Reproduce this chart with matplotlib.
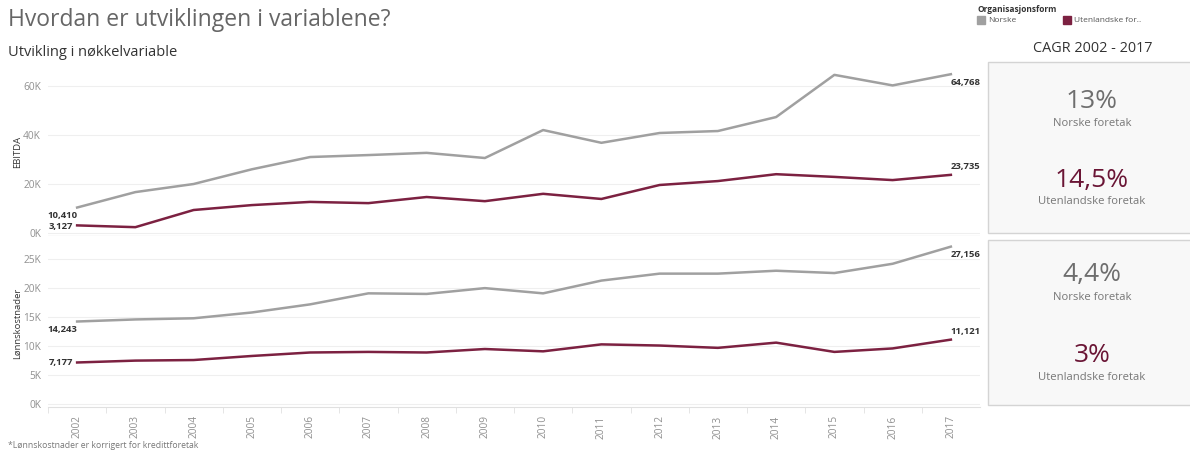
import matplotlib
matplotlib.use("Agg")
import matplotlib.pyplot as plt
from matplotlib.patches import Rectangle
from matplotlib.ticker import FuncFormatter, MultipleLocator

plt.rcParams["font.family"] = ["Open Sans", "DejaVu Sans"]

# ---------------------------------------------------------------------------
# Data (thousand NOK)
# ---------------------------------------------------------------------------
years = list(range(2002, 2018))

ebitda_norske = [10.410, 16.7, 20.0, 26.0, 31.0, 31.8, 32.7, 30.6, 42.0, 36.8,
                 40.8, 41.6, 47.3, 64.5, 60.2, 64.768]
ebitda_utl = [3.127, 2.4, 9.4, 11.4, 12.7, 12.2, 14.7, 13.0, 16.0, 13.9,
              19.6, 21.2, 24.0, 22.9, 21.6, 23.735]

lonn_norske = [14.243, 14.6, 14.8, 15.8, 17.2, 19.1, 19.0, 20.0, 19.1, 21.3,
               22.5, 22.5, 23.0, 22.6, 24.2, 27.156]
lonn_utl = [7.177, 7.5, 7.6, 8.3, 8.9, 9.0, 8.9, 9.5, 9.1, 10.3,
            10.1, 9.7, 10.6, 9.0, 9.6, 11.121]

cagr_ebitda = ["13%", "14,5%"]
cagr_lonn = ["4,4%", "3%"]
groups = ["Norske", "Utenlandske for.."]
group_labels = ["Norske foretak", "Utenlandske foretak"]

GREY = "#a0a0a0"
MAROON = "#7c2141"
CAGR_GREY = "#6e6e6e"
CAGR_MAROON = "#6a1535"
TICK = "#909090"

W, H = 1190, 450
fig = plt.figure(figsize=(W / 100, H / 100), dpi=100)


def px_axes(left, top, right, bottom):
    return fig.add_axes([left / W, 1 - bottom / H, (right - left) / W, (bottom - top) / H])


def fmt_k(v, _pos):
    return f"{int(round(v))}K"


def style(ax, ylim, step, ylabel):
    ax.set_xlim(2001.5, 2017.5)
    ax.set_ylim(*ylim)
    ax.yaxis.set_major_locator(MultipleLocator(step))
    ax.yaxis.set_major_formatter(FuncFormatter(fmt_k))
    ax.grid(axis="y", color="#efefef", lw=0.8)
    ax.set_axisbelow(True)
    for s in ax.spines.values():
        s.set_visible(False)
    ax.tick_params(axis="y", length=0, labelsize=7.3, labelcolor=TICK, pad=5)
    ax.set_ylabel(ylabel, fontsize=6.8, color="#333333")
    ax.yaxis.set_label_coords(-26 / 932, 0.5)


def label_value(ax, x, y, v, ha, dx, dy):
    ax.annotate(f"{v * 1000:,.0f}", (x, y), xytext=(dx, dy), textcoords="offset points",
                ha=ha, va="center", fontsize=6.8, fontweight="bold", color="#333333")


# top panel: EBITDA
ax1 = px_axes(48, 68, 980, 236)
style(ax1, (-1.2, 67.3), 20, "EBITDA")
ax1.plot(years, ebitda_norske, color=GREY, lw=1.8)
ax1.plot(years, ebitda_utl, color=MAROON, lw=1.8)
ax1.set_xticks([])
ax1.axhline(-1.2, color="#e6e6e6", lw=1)
label_value(ax1, years[0], ebitda_norske[0], ebitda_norske[0], "right", 0, -6)
label_value(ax1, years[0], ebitda_utl[0], ebitda_utl[0], "right", -3, -1)
label_value(ax1, years[-1], ebitda_norske[-1], ebitda_norske[-1], "left", 0, -6)
label_value(ax1, years[-1], ebitda_utl[-1], ebitda_utl[-1], "left", 0, 6)

# bottom panel: Lønnskostnader
ax2 = px_axes(48, 240, 980, 407)
style(ax2, (-0.5, 28.3), 5, "Lønnskostnader")
ax2.plot(years, lonn_norske, color=GREY, lw=1.8)
ax2.plot(years, lonn_utl, color=MAROON, lw=1.8)
ax2.set_xticks(years)
ax2.set_xticklabels([str(y) for y in years], rotation=90, fontsize=7.3, color=TICK)
ax2.set_xticks([y + 0.5 for y in years[:-1]] + [2001.5], minor=True)
ax2.tick_params(axis="x", which="major", length=0, pad=6)
ax2.tick_params(axis="x", which="minor", length=4, color="#e0e0e0")
ax2.spines["bottom"].set_visible(True)
ax2.spines["bottom"].set_color("#e0e0e0")
ax2.spines["bottom"].set_linestyle((0, (1, 1)))
label_value(ax2, years[0], lonn_norske[0], lonn_norske[0], "right", 0, -6)
label_value(ax2, years[0], lonn_utl[0], lonn_utl[0], "right", -3, 0)
label_value(ax2, years[-1], lonn_norske[-1], lonn_norske[-1], "left", 0, -6)
label_value(ax2, years[-1], lonn_utl[-1], lonn_utl[-1], "left", 0, 6)

# titles and footnote
fig.text(8 / W, 1 - 20 / H, "Hvordan er utviklingen i variablene?", fontsize=16.5,
         color="#666666", va="center", ha="left")
fig.text(8 / W, 1 - 52 / H, "Utvikling i nøkkelvariable", fontsize=10.5,
         color="#333333", va="center", ha="left")
fig.text(8 / W, 1 - 445 / H, "*Lønnskostnader er korrigert for kredittforetak",
         fontsize=6.2, color="#777777", va="center", ha="left")

# legend
fig.text(977 / W, 1 - 10 / H, "Organisasjonsform", fontsize=6, color="#333333",
         fontweight="bold", va="center")
for x0, col, name in [(977, GREY, groups[0]), (1063, MAROON, groups[1])]:
    fig.patches.append(Rectangle((x0 / W, 1 - 24 / H), 8 / W, 8 / H, color=col,
                                 transform=fig.transFigure))
    fig.text((x0 + 11) / W, 1 - 20 / H, name, fontsize=6, color="#555555", va="center")

# CAGR panels
fig.text(1093 / W, 1 - 48 / H, "CAGR 2002 - 2017", fontsize=10.4, color="#333333",
         ha="center", va="center")
for top, bottom, vals, ys in [(62, 233, cagr_ebitda, (101, 180)),
                              (240, 405, cagr_lonn, (275, 355))]:
    fig.patches.append(Rectangle((988 / W, 1 - bottom / H), 220 / W, (bottom - top) / H,
                                 facecolor="#f8f8f8", edgecolor="#d4d4d4", lw=1,
                                 transform=fig.transFigure))
    for val, yv, col, lab in zip(vals, ys, (CAGR_GREY, CAGR_MAROON), group_labels):
        fig.text(1092 / W, 1 - yv / H, val, fontsize=19, color=col, ha="center",
                 va="center")
        fig.text(1092 / W, 1 - (yv + 22) / H, lab, fontsize=8.1, color="#777777",
                 ha="center", va="center")

fig.savefig("out.png", dpi=100)
